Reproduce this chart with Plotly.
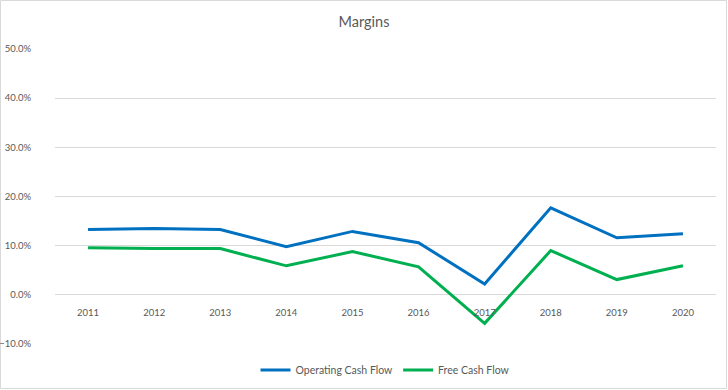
import plotly.graph_objects as go

years = ["2011", "2012", "2013", "2014", "2015", "2016", "2017", "2018", "2019", "2020"]
operating_cf = [0.133, 0.135, 0.133, 0.098, 0.129, 0.106, 0.022, 0.177, 0.116, 0.124]
free_cf = [0.096, 0.094, 0.094, 0.059, 0.088, 0.057, -0.058, 0.090, 0.031, 0.059]
y_ticks = [-0.1, 0.0, 0.1, 0.2, 0.3, 0.4, 0.5]

W, H = 728, 390
L, R, T, B = 55, 12, 49, 46
pw, ph = W - L - R, H - T - B

FONT = "Lato, Open Sans, sans-serif"

fig = go.Figure()
fig.add_trace(go.Scatter(x=years, y=operating_cf, mode="lines", name="Operating Cash Flow",
                         line=dict(color="#0070C0", width=3)))
fig.add_trace(go.Scatter(x=years, y=free_cf, mode="lines", name="Free Cash Flow",
                         line=dict(color="#00B050", width=3)))

font_color = "#595959"
fig.update_layout(
    width=W, height=H,
    margin=dict(l=L, r=R, t=T, b=B, autoexpand=False),
    paper_bgcolor="white", plot_bgcolor="white",
    font=dict(family=FONT, size=10, color=font_color),
    title=dict(text="Margins", x=0.5, xanchor="center", y=1 - 22 / H, yanchor="middle",
               font=dict(size=14.5, color=font_color)),
    showlegend=True,
    legend=dict(orientation="h", x=0.5, xanchor="center", y=(ph - (370 - T)) / ph, yanchor="middle",
                font=dict(size=10.5, color=font_color), itemwidth=30),
    xaxis=dict(type="category", anchor="free", position=(0.1 / 0.6),
               range=[-0.5, len(years) - 0.5], automargin=False,
               showgrid=False, showline=False, zeroline=False,
               ticks="outside", ticklen=9, tickcolor="rgba(0,0,0,0)",
               tickfont=dict(size=9.5, color=font_color)),
    yaxis=dict(range=[-0.1, 0.5], tickvals=y_ticks, tickformat=".1%", automargin=False,
               showgrid=True, gridcolor="#D9D9D9", gridwidth=1, zeroline=False,
               showline=False, ticks="outside", ticklen=21, tickcolor="rgba(0,0,0,0)",
               tickfont=dict(size=9.5, color=font_color)),
    shapes=[dict(type="rect", xref="paper", yref="paper",
                 x0=-(L - 0.5) / pw, x1=1 + (R - 1.5) / pw,
                 y0=-(B - 1.5) / ph, y1=1 + (T - 0.5) / ph,
                 line=dict(color="#D9D9D9", width=1), layer="below")],
)

fig.write_html("out.html", config={"displayModeBar": False},
               post_script="document.body.style.margin='0';document.body.style.overflow='hidden';")
